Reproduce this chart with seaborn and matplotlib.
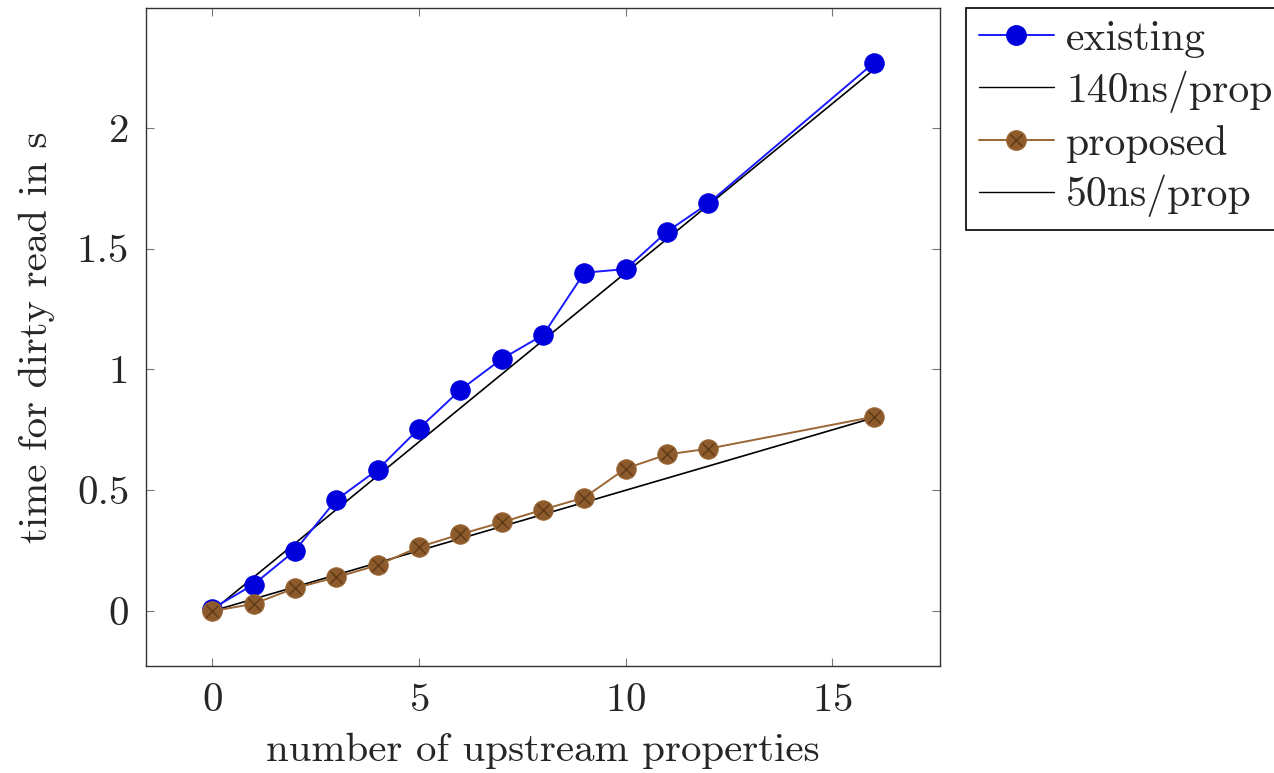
import numpy as np
import pandas as pd
import seaborn as sns
import matplotlib.pyplot as plt
from matplotlib.legend_handler import HandlerTuple

# measured points
props = [0, 1, 2, 3, 4, 5, 6, 7, 8, 9, 10, 11, 12, 16]
existing = [0.01, 0.11, 0.25, 0.46, 0.585, 0.755, 0.915, 1.043, 1.142, 1.40, 1.415, 1.57, 1.687, 2.268]
proposed = [0.0, 0.03, 0.095, 0.14, 0.19, 0.265, 0.318, 0.367, 0.42, 0.47, 0.59, 0.648, 0.672, 0.804]
fit_existing = [0.14 * p for p in props]   # 140ns/prop
fit_proposed = [0.05 * p for p in props]   # 50ns/prop

df = pd.DataFrame({
    "props": props,
    "existing": existing,
    "proposed": proposed,
    "fit_existing": fit_existing,
    "fit_proposed": fit_proposed,
})

sns.set_style("white")
plt.rcParams["font.family"] = ["cmr10", "DejaVu Serif"]
plt.rcParams["mathtext.fontset"] = "cm"
plt.rcParams["axes.formatter.use_mathtext"] = True
FS = 29.5

fig = plt.figure(figsize=(12.74, 7.73), dpi=100)
ax = fig.add_axes([146 / 1274, 1 - 666 / 773, (940 - 146) / 1274, (666 - 8) / 773])

brown_line = "#9a6634"
brown_fill = "#8c5a2b"
MS = 14

sns.lineplot(data=df, x="props", y="existing", ax=ax, color="#1a1aff", lw=1.4,
             marker="o", markersize=MS, markerfacecolor="#0000dd",
             markeredgecolor="#0000dd", zorder=3)
sns.lineplot(data=df, x="props", y="fit_existing", ax=ax, color="black", lw=1.2, zorder=2)
sns.lineplot(data=df, x="props", y="proposed", ax=ax, color=brown_line, lw=1.4,
             marker="o", markersize=MS, markerfacecolor=brown_fill,
             markeredgecolor=brown_line, zorder=4)
ax.plot(df["props"], df["proposed"], ls="none", marker="x", markersize=8.5,
        markeredgewidth=1.0, color="#5e3a18", zorder=5)
sns.lineplot(data=df, x="props", y="fit_proposed", ax=ax, color="black", lw=1.2, zorder=2)

ax.set_xlim(-1.6, 17.6)
ax.set_ylim(-0.227, 2.495)
ax.set_xticks([0, 5, 10, 15])
ax.set_yticks([0, 0.5, 1, 1.5, 2])
ax.set_yticklabels(["0", "0.5", "1", "1.5", "2"])
ax.set_xlabel("number of upstream properties", fontsize=FS, labelpad=10)
ax.set_ylabel("time for dirty read in s", fontsize=FS, labelpad=16)

for s in ax.spines.values():
    s.set_color("#333333")
    s.set_linewidth(1.0)
ax.tick_params(direction="in", length=6, width=0.8, color="#777777",
               top=True, right=True, bottom=True, left=True, labelsize=FS, pad=12)

h_ex = plt.Line2D([], [], color="#1a1aff", lw=1.4, marker="o", markersize=MS,
                  markerfacecolor="#0000dd", markeredgecolor="#0000dd")
h_140 = plt.Line2D([], [], color="black", lw=1.0)
h_pr = plt.Line2D([], [], color=brown_line, lw=1.4, marker="o", markersize=MS,
                  markerfacecolor=brown_fill, markeredgecolor=brown_line)
h_prx = plt.Line2D([], [], ls="none", marker="x", markersize=8.5, markeredgewidth=1.0,
                   color="#5e3a18")
h_50 = plt.Line2D([], [], color="black", lw=1.0)

leg = fig.legend([h_ex, h_140, (h_pr, h_prx), h_50],
                 ["existing", "140ns/prop", "proposed", "50ns/prop"],
                 loc="upper left", bbox_to_anchor=(966 / 1274, 1 - 8 / 773),
                 handler_map={tuple: HandlerTuple(ndivide=1)},
                 fancybox=False, framealpha=1, edgecolor="black",
                 fontsize=30, handlelength=1.8, handletextpad=0.3,
                 labelspacing=0.29, borderpad=0.3, borderaxespad=0)
leg.get_frame().set_linewidth(1.2)

fig.savefig("out.png", dpi=100)
